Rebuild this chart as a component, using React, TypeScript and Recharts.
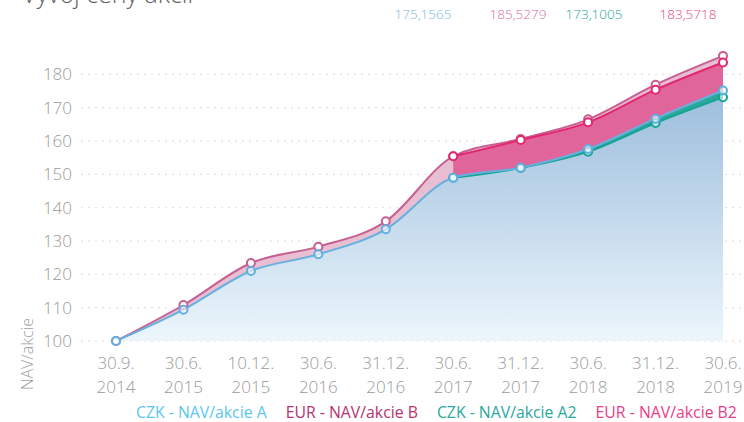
import { ComposedChart, Area, XAxis, YAxis, CartesianGrid, Label } from 'recharts';

const dates = ['30.9.', '30.6.', '10.12.', '30.6.', '31.12.', '30.6.', '31.12.', '30.6.', '31.12.', '30.6.'];
const years = ['2014', '2015', '2015', '2016', '2016', '2017', '2017', '2018', '2018', '2019'];

const navA = [100, 109.4, 121, 126, 133.5, 149, 152, 157.6, 166.7, 175.1565];
const navB = [100, 110.8, 123.4, 128.3, 135.9, 155.4, 160.6, 166.5, 176.9, 185.5279];
const navA2 = [null, null, null, null, null, 149, 151.9, 156.8, 165.4, 173.1005];
const navB2 = [null, null, null, null, null, 155.4, 160.3, 165.6, 175.4, 183.5718];

const yDomain = [100, 190];
const yTicks = [100, 110, 120, 130, 140, 150, 160, 170, 180];

const lastValues = [
  { text: '175,1565', color: '#7ab8e0', x: 423 },
  { text: '185,5279', color: '#d46fa0', x: 518 },
  { text: '173,1005', color: '#22a89a', x: 594 },
  { text: '183,5718', color: '#ec3f86', x: 688 },
];

const legendItems = [
  { text: 'CZK - NAV/akcie A', color: '#5cc6ee' },
  { text: 'EUR - NAV/akcie B', color: '#b8326e' },
  { text: 'CZK - NAV/akcie A2', color: '#2aa89d' },
  { text: 'EUR - NAV/akcie B2', color: '#ec3c88' },
];

const data = dates.map((d, i) => ({
  key: i,
  date: d,
  year: years[i],
  A: navA[i],
  B: navB[i],
  A2: navA2[i],
  B2: navB2[i],
}));

const FONT = '"Open Sans", sans-serif';

function DateTick(props: any) {
  const { x, y, payload } = props;
  const row = data[payload.value];
  return (
    <text x={x} y={y} textAnchor="middle" fill="#9a9a9a" fontSize={17} fontFamily={FONT} fontWeight={300}>
      <tspan x={x} dy={28}>{row.date}</tspan>
      <tspan x={x} dy={24}>{row.year}</tspan>
    </text>
  );
}

// grid only at the labelled ticks, not at the top of the domain
function gridLines({ offset }: any) {
  const [lo, hi] = yDomain;
  return yTicks.map((t) => offset.top + (offset.height * (hi - t)) / (hi - lo));
}

const dotStyle = (color: string) => ({ r: 4, fill: '#fff', stroke: color, strokeWidth: 2 });

export default function App() {
  return (
    <div style={{ position: 'absolute', left: 0, top: 0, width: 744, height: 422, overflow: 'hidden', background: '#fff', fontFamily: FONT }}>
      <div style={{ position: 'absolute', left: 22, top: -24, fontSize: 25, color: '#5e5e5e', fontWeight: 300, whiteSpace: 'nowrap' }}>
        Vývoj ceny akcií
      </div>
      {lastValues.map((v) => (
        <div
          key={v.text}
          style={{ position: 'absolute', left: v.x - 40, width: 80, top: 5, textAlign: 'center', fontSize: 13.5, color: v.color, fontWeight: 300 }}
        >
          {v.text}
        </div>
      ))}
      <ComposedChart width={744} height={422} data={data} margin={{ top: 41, right: 0, left: 0, bottom: 21 }}>
        <defs>
          <linearGradient id="gradA" x1="0" y1="0" x2="0" y2="1">
            <stop offset="0%" stopColor="#9bbddc" />
            <stop offset="100%" stopColor="#ecf6fc" />
          </linearGradient>
        </defs>
        <CartesianGrid vertical={false} stroke="#dcdcdc" strokeDasharray="2 5" horizontalCoordinatesGenerator={gridLines} />
        <XAxis
          dataKey="key"
          type="category"
          axisLine={false}
          tickLine={false}
          tickSize={0}
          tickMargin={0}
          height={60}
          padding={{ left: 35, right: 21 }}
          interval={0}
          tick={<DateTick />}
        />
        <YAxis
          domain={yDomain}
          ticks={yTicks}
          width={81}
          axisLine={false}
          tickLine={false}
          tickSize={0}
          tickMargin={9}
          tick={{ fill: '#9a9a9a', fontSize: 17, fontFamily: FONT, fontWeight: 300 }}
        >
          <Label
            content={() => (
              <text
                x={27}
                y={354}
                transform="rotate(-90 27 354)"
                textAnchor="middle"
                dominantBaseline="central"
                fill="#a0a0a0"
                fontSize={16}
                fontFamily={FONT}
                fontWeight={300}
              >
                NAV/akcie
              </text>
            )}
          />
        </YAxis>
        <Area
          type="monotone"
          dataKey="B"
          stroke="#c75f93"
          strokeWidth={2}
          fill="#e8bed2"
          fillOpacity={1}
          dot={dotStyle('#c75f93')}
          activeDot={false}
          isAnimationActive={false}
        />
        <Area
          type="monotone"
          dataKey="B2"
          stroke="#e2266f"
          strokeWidth={2}
          fill="#e0659b"
          fillOpacity={1}
          dot={dotStyle('#e2266f')}
          activeDot={false}
          isAnimationActive={false}
        />
        <Area
          type="monotone"
          dataKey="A"
          stroke="none"
          fill="url(#gradA)"
          fillOpacity={1}
          dot={false}
          activeDot={false}
          isAnimationActive={false}
        />
        <Area
          type="monotone"
          dataKey={(d: any) => (d.A2 == null ? null : [d.A2, d.A])}
          stroke="none"
          fill="#2aa99b"
          fillOpacity={1}
          dot={false}
          activeDot={false}
          isAnimationActive={false}
        />
        <Area
          type="monotone"
          dataKey="A2"
          stroke="#15a393"
          strokeWidth={2}
          fill="none"
          dot={dotStyle('#15a393')}
          activeDot={false}
          isAnimationActive={false}
        />
        <Area
          type="monotone"
          dataKey="A"
          stroke="#66b0de"
          strokeWidth={2}
          fill="none"
          dot={dotStyle('#5fb0e0')}
          activeDot={false}
          isAnimationActive={false}
        />
      </ComposedChart>
      <div style={{ position: 'absolute', left: 136, top: 401, display: 'flex', gap: 19, fontSize: 15.8, whiteSpace: 'nowrap' }}>
        {legendItems.map((l) => (
          <span key={l.text} style={{ color: l.color }}>
            {l.text}
          </span>
        ))}
      </div>
    </div>
  );
}
